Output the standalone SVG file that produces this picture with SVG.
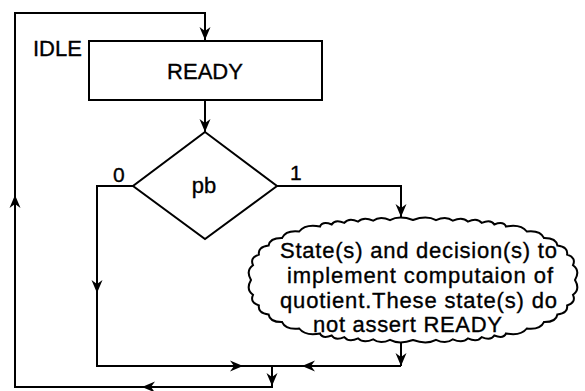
<svg xmlns="http://www.w3.org/2000/svg" xmlns:xlink="http://www.w3.org/1999/xlink" width="585" height="391" viewBox="0 0 585 391">
<style>
.ln{fill:none;stroke:#000;stroke-width:2;stroke-linejoin:miter}
.sh{fill:#fff;stroke:#000;stroke-width:2}
.t{font-family:"Liberation Sans",Arial,Helvetica,sans-serif;font-size:22px;fill:#000;stroke:#000;stroke-width:0.35}
.s{font-size:21px}
</style>
<defs>
<path id="ah" d="M0,0 L-13,-5.5 L-9,0 L-13,5.5 Z" fill="#000"/>
</defs>
<rect width="585" height="391" fill="#fff"/>
<g id="connectors">
<path class="ln" d="M272,366 V387 H15 V13 H205 V40"/>
<path class="ln" d="M205,100 V132"/>
<path class="ln" d="M133,186 H97 V366 H401"/>
<path class="ln" d="M277,186 H401 V217"/>
<path class="ln" d="M401,342 V366"/>
<use xlink:href="#ah" href="#ah" transform="translate(205,40) rotate(90)"/>
<use xlink:href="#ah" href="#ah" transform="translate(15,195) rotate(-90)"/>
<use xlink:href="#ah" href="#ah" transform="translate(142,387) rotate(180)"/>
<use xlink:href="#ah" href="#ah" transform="translate(272,386) rotate(90)"/>
<use xlink:href="#ah" href="#ah" transform="translate(205,132) rotate(90)"/>
<use xlink:href="#ah" href="#ah" transform="translate(97,293) rotate(90)"/>
<use xlink:href="#ah" href="#ah" transform="translate(243,366)"/>
<use xlink:href="#ah" href="#ah" transform="translate(302,366) rotate(180)"/>
<use xlink:href="#ah" href="#ah" transform="translate(401,217) rotate(90)"/>
<use xlink:href="#ah" href="#ah" transform="translate(401,366) rotate(90)"/>
</g>
<g id="idle">
<text class="t" x="33" y="56">IDLE</text>
</g>
<g id="ready">
<rect class="sh" x="89" y="41" width="233" height="59"/>
<text class="t" x="205" y="79" text-anchor="middle">READY</text>
</g>
<g id="decision">
<polygon class="sh" points="205,132 277,186 205,239 133,186"/>
<text class="t" x="204" y="193" text-anchor="middle">pb</text>
<text class="t s" x="113" y="182">0</text>
<text class="t s" x="290" y="180">1</text>
</g>
<g id="computation">
<path class="sh" d="M575,280 Q580.5,289.4 573,294.8 Q576.4,302.4 567.1,305.4 Q568.3,313.1 557.4,314.5 Q556.2,322.3 543.9,322.1 Q540.3,330 526.8,328.5 Q520.7,336.3 506,333.5 Q503.5,339.1 494.3,335.5 Q490.9,341 481.7,337.1 Q477.2,342.6 467.9,338.4 Q462.4,343.8 452.9,339.3 Q445.9,344.6 436,339.8 Q426.7,344.9 413,340 Q399.3,344.9 390,339.8 Q380.1,344.6 373.1,339.3 Q363.6,343.8 358.1,338.4 Q348.8,342.6 344.3,337.1 Q335.1,341 331.7,335.5 Q322.5,339.1 320,333.5 Q305.3,336.3 299.2,328.5 Q285.7,330 282.1,322.1 Q269.8,322.3 268.6,314.5 Q257.7,313.1 258.9,305.4 Q249.6,302.4 253,294.8 Q245.5,289.4 251,280 Q245.5,270.6 253,265.2 Q249.6,257.6 258.9,254.6 Q257.7,246.9 268.6,245.5 Q269.8,237.7 282.1,237.9 Q285.7,230 299.2,231.5 Q305.3,223.7 320,226.5 Q322.5,220.9 331.7,224.5 Q335.1,219 344.3,222.9 Q348.8,217.4 358.1,221.6 Q363.6,216.2 373.1,220.7 Q380.1,215.4 390,220.2 Q399.3,215.1 413,220 Q426.7,215.1 436,220.2 Q445.9,215.4 452.9,220.7 Q462.4,216.2 467.9,221.6 Q477.2,217.4 481.7,222.9 Q490.9,219 494.3,224.5 Q503.5,220.9 506,226.5 Q520.7,223.7 526.8,231.5 Q540.3,230 543.9,237.9 Q556.2,237.7 557.4,245.5 Q568.3,246.9 567.1,254.6 Q576.4,257.6 573,265.2 Q580.5,270.6 575,280 Z"/>
<text class="t" x="280" y="258" textLength="277" lengthAdjust="spacing">State(s) and decision(s) to</text>
<text class="t" x="287" y="283" textLength="266" lengthAdjust="spacing">implement computaion of</text>
<text class="t" x="280" y="308" textLength="277" lengthAdjust="spacing">quotient.These state(s) do</text>
<text class="t" x="313" y="332" textLength="189" lengthAdjust="spacing">not assert READY</text>
</g>
</svg>
